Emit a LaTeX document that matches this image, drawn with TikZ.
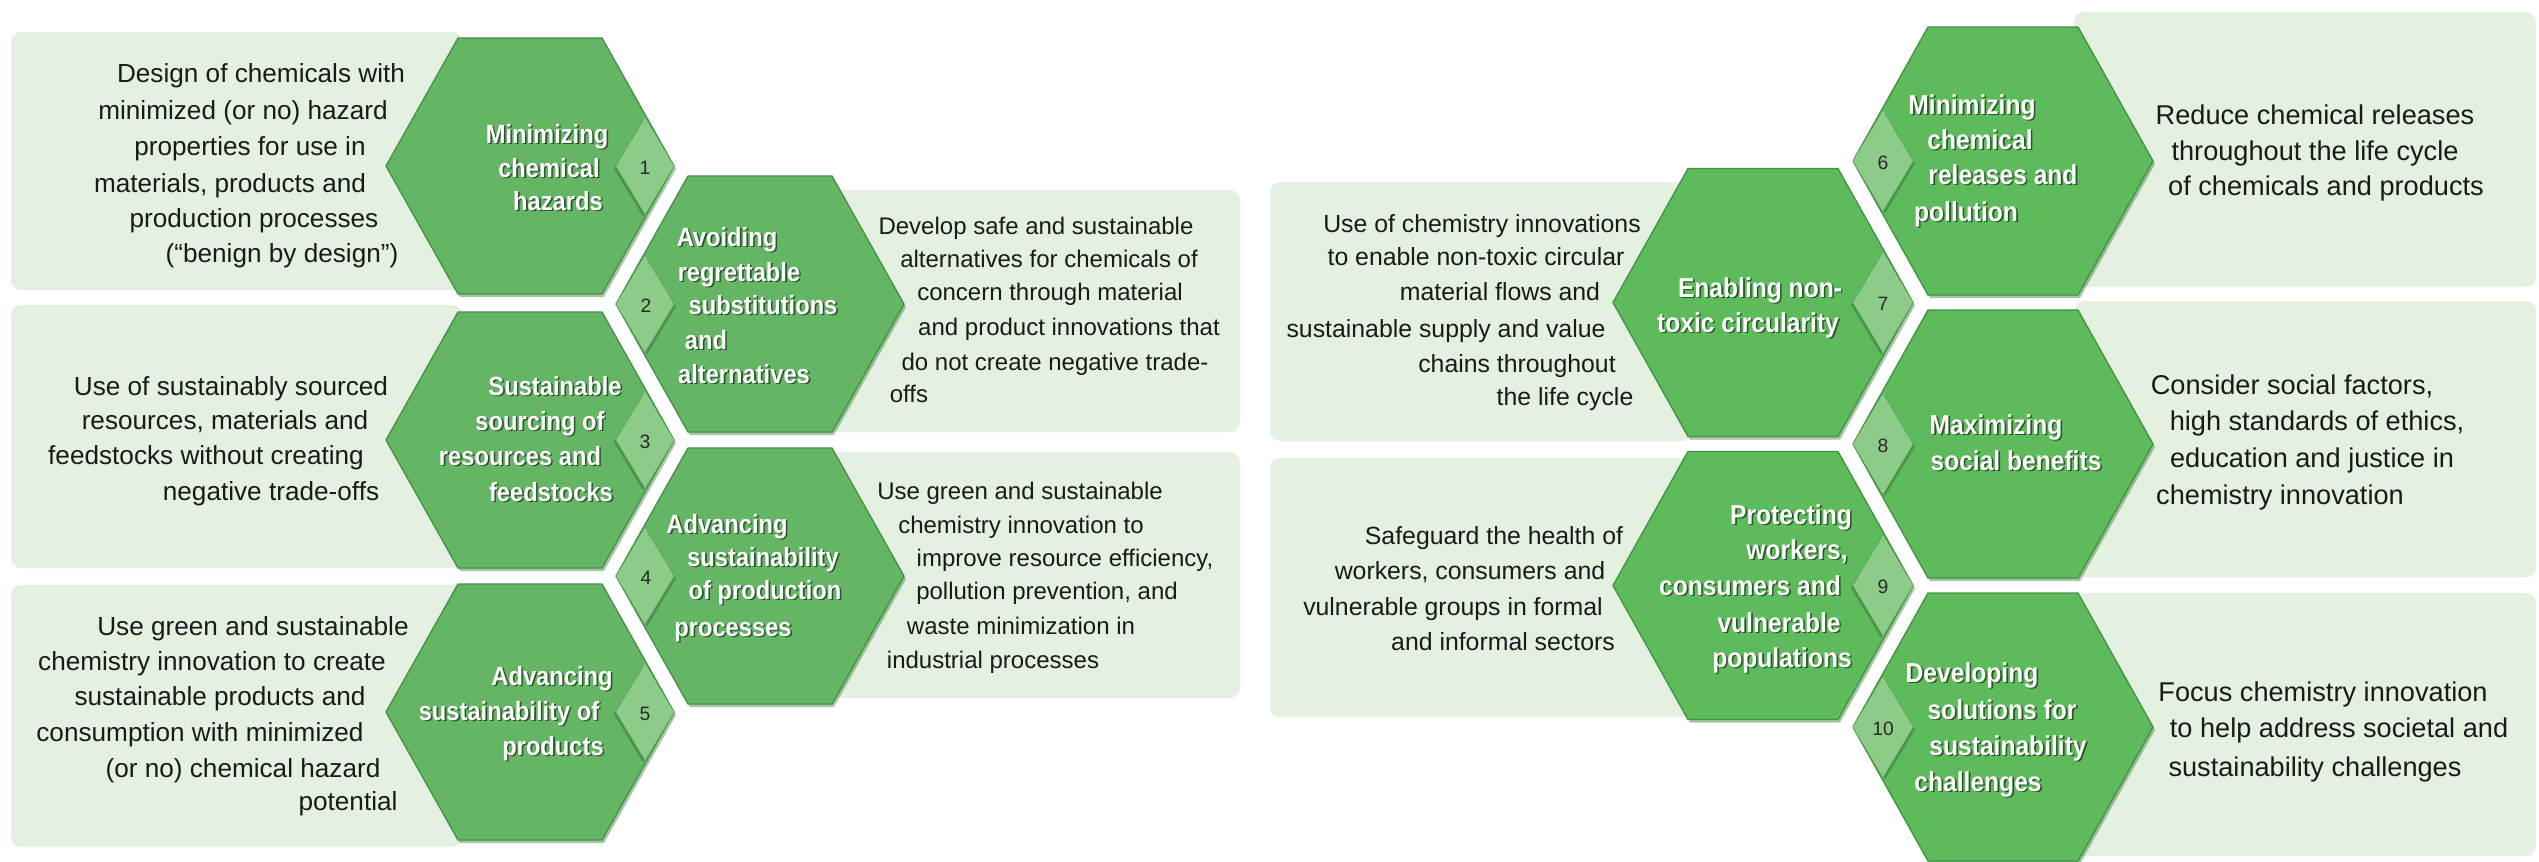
\documentclass[tikz,border=0pt]{standalone}
\usepackage{fontspec}
\setmainfont{Liberation Sans}
\newfontfamily\hfont[FakeStretch=0.9]{Liberation Sans}
\definecolor{panelc}{HTML}{E4F0E0}
\definecolor{hexl}{HTML}{64B665}
\definecolor{hexr}{HTML}{5DBB5B}
\definecolor{diac}{HTML}{8DCB89}
\definecolor{hexdark}{HTML}{3A7F3B}
\definecolor{txtc}{HTML}{1A1A1A}
\definecolor{numc}{HTML}{2A2A2A}
\tikzset{
  panel/.style={fill=panelc, rounded corners=3pt},
  hexshadow/.style={fill=hexdark, opacity=0.45, shift={(2,3)}},
  hexL/.style={fill=hexl, draw=hexdark!70!hexl, line width=0.4pt},
  hexR/.style={fill=hexr, draw=hexdark!70!hexr, line width=0.4pt},
  diashadow/.style={fill=hexdark, opacity=0.6, shift={(-2,2.5)}},
  diashadowR/.style={fill=hexdark, opacity=0.6, shift={(2,2.5)}},
  diastyle/.style={fill=diac},
  desc/.style={text=txtc, inner sep=0pt, anchor=center, text height=5.8pt, text depth=1.6pt},
  dA/.style={desc, font=\fontsize{7.85}{9}\selectfont},
  dB/.style={desc, font=\fontsize{7.2}{9}\selectfont},
  dC/.style={desc, font=\fontsize{7.45}{9}\selectfont},
  dD/.style={desc, font=\fontsize{8.15}{9}\selectfont},
  hL/.style={inner sep=0pt, anchor=center, text height=5.8pt, text depth=1.6pt, font=\hfont\bfseries\fontsize{7.9}{9}\selectfont},
  hR/.style={inner sep=0pt, anchor=center, text height=6pt, text depth=1.7pt, font=\hfont\bfseries\fontsize{8.2}{9}\selectfont},
  num/.style={inner sep=0pt, text=numc, font=\fontsize{5.8}{6}\selectfont},
}
% hexagon: cx, cy, W, a, H, style
\newcommand\hexat[6]{%
  \fill[#6] ({#1-#3},{#2}) -- ({#1-#4},{#2-#5}) -- ({#1+#4},{#2-#5}) -- ({#1+#3},{#2}) -- ({#1+#4},{#2+#5}) -- ({#1-#4},{#2+#5}) -- cycle;}
% diamond: vx, vy, signed d, h, style
\newcommand\diam[5]{%
  \fill[#5] ({#1},{#2}) -- ({#1+(#3)},{#2-#4}) -- ({#1+2*(#3)},{#2}) -- ({#1+(#3)},{#2+#4}) -- cycle;}
% heading line with shadow: name, style, x, y, text
\newcommand\hdl[5]{%
  \node[#2, text=black, opacity=0.55] (#1s) at ({#3+1.6},{#4+1.6}) {#5};
  \node[#2, text=white] (#1) at ({#3},{#4}) {#5};}
\begin{document}
\begin{tikzpicture}[x=0.3pt,y=-0.3pt]
\useasboundingbox (0,0) rectangle (2539,861);
% panels
\fill[panel] (11,32) rectangle (462,290);
\fill[panel] (11,305) rectangle (462,568);
\fill[panel] (11,585) rectangle (462,847);
\fill[panel] (828,190) rectangle (1240,432);
\fill[panel] (828,452) rectangle (1240,698);
\fill[panel] (1270,182) rectangle (1692,441);
\fill[panel] (1270,458) rectangle (1692,717);
\fill[panel] (2074,12) rectangle (2536,287);
\fill[panel] (2074,301) rectangle (2536,577);
\fill[panel] (2074,593) rectangle (2536,856);
% hexagon shadows
\hexat{530}{166}{144}{72}{128}{hexshadow}
\hexat{530}{440}{144}{72}{128}{hexshadow}
\hexat{530}{712}{144}{72}{128}{hexshadow}
\hexat{760}{304}{144}{72}{128}{hexshadow}
\hexat{760}{576}{144}{72}{128}{hexshadow}
\hexat{2003}{161}{150}{75}{134}{hexshadow}
\hexat{2003}{444}{150}{75}{134}{hexshadow}
\hexat{2003}{727}{150}{75}{134}{hexshadow}
\hexat{1763}{302.5}{150}{75}{134}{hexshadow}
\hexat{1763}{585.5}{150}{75}{134}{hexshadow}
% hexagons
\hexat{530}{166}{144}{72}{128}{hexL}
\hexat{530}{440}{144}{72}{128}{hexL}
\hexat{530}{712}{144}{72}{128}{hexL}
\hexat{760}{304}{144}{72}{128}{hexL}
\hexat{760}{576}{144}{72}{128}{hexL}
\hexat{2003}{161}{150}{75}{134}{hexR}
\hexat{2003}{444}{150}{75}{134}{hexR}
\hexat{2003}{727}{150}{75}{134}{hexR}
\hexat{1763}{302.5}{150}{75}{134}{hexR}
\hexat{1763}{585.5}{150}{75}{134}{hexR}
% diamonds (left group)
\diam{674}{166}{-29}{48}{diashadow}
\diam{674}{440}{-29}{48}{diashadow}
\diam{674}{712}{-29}{48}{diashadow}
\diam{616}{304}{29}{48}{diashadowR}
\diam{616}{576}{29}{48}{diashadowR}
\diam{674}{166}{-29}{48}{diastyle}
\diam{674}{440}{-29}{48}{diastyle}
\diam{674}{712}{-29}{48}{diastyle}
\diam{616}{304}{29}{48}{diastyle}
\diam{616}{576}{29}{48}{diastyle}
% diamonds (right group)
\diam{1853}{161}{30}{50}{diashadowR}
\diam{1853}{444}{30}{50}{diashadowR}
\diam{1853}{727}{30}{50}{diashadowR}
\diam{1913}{302.5}{-30}{50}{diashadow}
\diam{1913}{585.5}{-30}{50}{diashadow}
\diam{1853}{161}{30}{50}{diastyle}
\diam{1853}{444}{30}{50}{diastyle}
\diam{1853}{727}{30}{50}{diastyle}
\diam{1913}{302.5}{-30}{50}{diastyle}
\diam{1913}{585.5}{-30}{50}{diastyle}
% numbers
\node[num] (n1) at (645,168) {1};
\node[num] (n2) at (646,306) {2};
\node[num] (n3) at (645,442) {3};
\node[num] (n4) at (646,578) {4};
\node[num] (n5) at (645,714) {5};
\node[num] (n6) at (1883,163) {6};
\node[num] (n7) at (1883,304) {7};
\node[num] (n8) at (1883,446) {8};
\node[num] (n9) at (1883,587) {9};
\node[num] (n10) at (1883,729) {10};
% headings left group
\hdl{t1a}{hL}{547}{136}{Minimizing}
\hdl{t1b}{hL}{549}{170}{chemical}
\hdl{t1c}{hL}{558}{203}{hazards}
\hdl{t2a}{hL}{727}{239}{Avoiding}
\hdl{t2b}{hL}{739}{274}{regrettable}
\hdl{t2c}{hL}{763}{307}{substitutions}
\hdl{t2d}{hL}{706}{342}{and}
\hdl{t2e}{hL}{744}{376}{alternatives}
\hdl{t3a}{hL}{555}{388}{Sustainable}
\hdl{t3b}{hL}{540}{423}{sourcing of}
\hdl{t3c}{hL}{520}{458}{resources and}
\hdl{t3d}{hL}{551}{494}{feedstocks}
\hdl{t4a}{hL}{727}{526}{Advancing}
\hdl{t4b}{hL}{763}{559}{sustainability}
\hdl{t4c}{hL}{765}{592}{of production}
\hdl{t4d}{hL}{733}{629}{processes}
\hdl{t5a}{hL}{552}{678}{Advancing}
\hdl{t5b}{hL}{509}{713}{sustainability of}
\hdl{t5c}{hL}{553}{748}{products}
% headings right group
\hdl{t6a}{hR}{1972}{107}{Minimizing}
\hdl{t6b}{hR}{1980}{142}{chemical}
\hdl{t6c}{hR}{2003}{177}{releases and}
\hdl{t6d}{hR}{1966}{214}{pollution}
\hdl{t7a}{hR}{1760}{290}{Enabling non-}
\hdl{t7b}{hR}{1748}{325}{toxic circularity}
\hdl{t8a}{hR}{1996}{427}{Maximizing}
\hdl{t8b}{hR}{2016}{463}{social benefits}
\hdl{t9a}{hR}{1791}{517}{Protecting}
\hdl{t9b}{hR}{1797}{552}{workers,}
\hdl{t9c}{hR}{1750}{588}{consumers and}
\hdl{t9d}{hR}{1779}{625}{vulnerable}
\hdl{t9e}{hR}{1782}{660}{populations}
\hdl{t10a}{hR}{1972}{675}{Developing}
\hdl{t10b}{hR}{2002}{712}{solutions for}
\hdl{t10c}{hR}{2008}{748}{sustainability}
\hdl{t10d}{hR}{1978}{784}{challenges}
% descriptions panel 1
\node[dA] (d1a) at (261,75) {Design of chemicals with};
\node[dA] (d1b) at (243,112) {minimized (or no) hazard};
\node[dA] (d1c) at (250,148) {properties for use in};
\node[dA] (d1d) at (230,185) {materials, products and};
\node[dA] (d1e) at (254,220) {production processes};
\node[dA] (d1f) at (282,255) {(“benign by design”)};
% panel 3
\node[dA] (d3a) at (231,388) {Use of sustainably sourced};
\node[dA] (d3b) at (225,422) {resources, materials and};
\node[dA] (d3c) at (206,457) {feedstocks without creating};
\node[dA] (d3d) at (271,493) {negative trade-offs};
% panel 5
\node[dA] (d5a) at (253,628) {Use green and sustainable};
\node[dA] (d5b) at (212,663) {chemistry innovation to create};
\node[dA] (d5c) at (220,698) {sustainable products and};
\node[dA] (d5d) at (200,734) {consumption with minimized};
\node[dA] (d5e) at (243,770) {(or no) chemical hazard};
\node[dA] (d5f) at (348,803) {potential};
% panel 2
\node[dB] (d2a) at (1036,227) {Develop safe and sustainable};
\node[dB] (d2b) at (1049,260) {alternatives for chemicals of};
\node[dB] (d2c) at (1050,293) {concern through material};
\node[dB] (d2d) at (1069,328) {and product innovations that};
\node[dB] (d2e) at (1055,363) {do not create negative trade-};
\node[dB] (d2f) at (909,395) {offs};
% panel 4
\node[dB] (d4a) at (1020,492) {Use green and sustainable};
\node[dB] (d4b) at (1021,526) {chemistry innovation to};
\node[dB] (d4c) at (1065,559) {improve resource efficiency,};
\node[dB] (d4d) at (1047,592) {pollution prevention, and};
\node[dB] (d4e) at (1021,627) {waste minimization in};
\node[dB] (d4f) at (993,661) {industrial processes};
% panel 7
\node[dC] (d7a) at (1482,225) {Use of chemistry innovations};
\node[dC] (d7b) at (1476,258) {to enable non-toxic circular};
\node[dC] (d7c) at (1500,293) {material flows and};
\node[dC] (d7d) at (1446,330) {sustainable supply and value};
\node[dC] (d7e) at (1517,365) {chains throughout};
\node[dC] (d7f) at (1565,398) {the life cycle};
% panel 9
\node[dC] (d9a) at (1494,537) {Safeguard the health of};
\node[dC] (d9b) at (1470,572) {workers, consumers and};
\node[dC] (d9c) at (1453,608) {vulnerable groups in formal};
\node[dC] (d9d) at (1503,643) {and informal sectors};
% panel 6
\node[dD] (d6a) at (2315,117) {Reduce chemical releases};
\node[dD] (d6b) at (2315,153) {throughout the life cycle};
\node[dD] (d6c) at (2326,188) {of chemicals and products};
% panel 8
\node[dD] (d8a) at (2292,387) {Consider social factors,};
\node[dD] (d8b) at (2317,423) {high standards of ethics,};
\node[dD] (d8c) at (2312,460) {education and justice in};
\node[dD] (d8d) at (2280,497) {chemistry innovation};
% panel 10
\node[dD] (d10a) at (2323,694) {Focus chemistry innovation};
\node[dD] (d10b) at (2339,730) {to help address societal and};
\node[dD] (d10c) at (2315,769) {sustainability challenges};
\end{tikzpicture}
\end{document}
